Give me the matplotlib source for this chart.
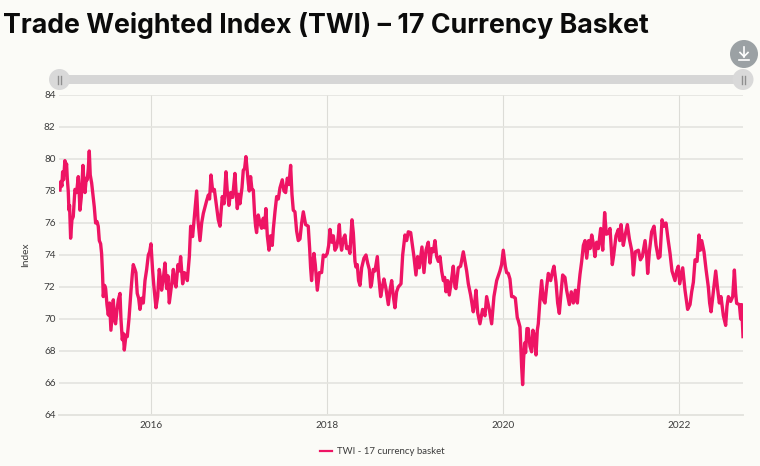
import matplotlib
matplotlib.use("Agg")
import matplotlib.pyplot as plt
from matplotlib.lines import Line2D
from matplotlib.patches import Circle, Rectangle

plt.rcParams["font.family"] = "Lato"

# values, as decimal year / index level
years = [
    2014.966, 2014.977, 2014.988, 2014.996, 2015.007, 2015.022, 2015.034, 2015.041, 2015.049, 2015.060,
    2015.068, 2015.075, 2015.087, 2015.102, 2015.117, 2015.136, 2015.155, 2015.174, 2015.185, 2015.193,
    2015.208, 2015.227, 2015.238, 2015.250, 2015.265, 2015.276, 2015.288, 2015.299, 2015.310, 2015.326,
    2015.344, 2015.356, 2015.363, 2015.371, 2015.386, 2015.401, 2015.413, 2015.428, 2015.439, 2015.450,
    2015.458, 2015.473, 2015.485, 2015.500, 2015.515, 2015.530, 2015.545, 2015.560, 2015.572, 2015.587,
    2015.598, 2015.613, 2015.629, 2015.648, 2015.659, 2015.674, 2015.685, 2015.697, 2015.716, 2015.731,
    2015.750, 2015.772, 2015.788, 2015.799, 2015.818, 2015.829, 2015.844, 2015.860, 2015.875, 2015.894,
    2015.913, 2015.932, 2015.951, 2015.970, 2015.985,
    2016.000, 2016.019, 2016.034, 2016.057, 2016.076, 2016.094, 2016.110, 2016.121, 2016.140, 2016.159,
    2016.178, 2016.193, 2016.208, 2016.231, 2016.254, 2016.269, 2016.284, 2016.307, 2016.322, 2016.337,
    2016.360, 2016.379, 2016.398, 2016.413, 2016.436, 2016.451, 2016.462, 2016.473, 2016.492, 2016.504,
    2016.519, 2016.534, 2016.557, 2016.576, 2016.595, 2016.614, 2016.633, 2016.652, 2016.666, 2016.682,
    2016.701, 2016.720, 2016.746, 2016.765, 2016.784, 2016.799, 2016.810, 2016.830, 2016.852, 2016.867,
    2016.886, 2016.905, 2016.928, 2016.954, 2016.966, 2016.981, 2016.996,
    2017.011, 2017.034, 2017.049, 2017.064, 2017.079, 2017.094, 2017.106, 2017.117, 2017.132, 2017.147,
    2017.163, 2017.178, 2017.189, 2017.200, 2017.219, 2017.238, 2017.257, 2017.276, 2017.291, 2017.306,
    2017.322, 2017.341, 2017.359, 2017.378, 2017.390, 2017.409, 2017.428, 2017.447, 2017.466, 2017.492,
    2017.511, 2017.530, 2017.549, 2017.568, 2017.587, 2017.602, 2017.617, 2017.636, 2017.655, 2017.674,
    2017.693, 2017.712, 2017.731, 2017.757, 2017.787, 2017.803, 2017.814, 2017.825, 2017.841, 2017.852,
    2017.867, 2017.890, 2017.913, 2017.939, 2017.958, 2017.981,
    2018.003, 2018.019, 2018.034, 2018.053, 2018.072, 2018.091, 2018.110, 2018.125, 2018.140, 2018.151,
    2018.166, 2018.185, 2018.204, 2018.223, 2018.242, 2018.261, 2018.272, 2018.284, 2018.299, 2018.318,
    2018.329, 2018.344, 2018.359, 2018.375, 2018.394, 2018.420, 2018.443, 2018.462, 2018.481, 2018.496,
    2018.507, 2018.526, 2018.545, 2018.572, 2018.587, 2018.610, 2018.629, 2018.647, 2018.670, 2018.697,
    2018.716, 2018.735, 2018.754, 2018.772, 2018.791, 2018.810, 2018.841, 2018.860, 2018.886, 2018.905,
    2018.924, 2018.951, 2018.966, 2018.988,
    2019.011, 2019.030, 2019.049, 2019.079, 2019.102, 2019.125, 2019.151, 2019.170, 2019.189, 2019.208,
    2019.227, 2019.246, 2019.265, 2019.284, 2019.303, 2019.322, 2019.337, 2019.352, 2019.371, 2019.390,
    2019.416, 2019.435, 2019.454, 2019.465, 2019.492, 2019.518, 2019.549, 2019.568, 2019.587, 2019.606,
    2019.632, 2019.662, 2019.678, 2019.693, 2019.712, 2019.738, 2019.768, 2019.795, 2019.814, 2019.844,
    2019.871, 2019.897, 2019.928, 2019.965, 2019.984,
    2020.003, 2020.026, 2020.041, 2020.060, 2020.079, 2020.098, 2020.117, 2020.140, 2020.162, 2020.174,
    2020.193, 2020.204, 2020.212, 2020.223, 2020.234, 2020.246, 2020.257, 2020.272, 2020.287, 2020.306,
    2020.325, 2020.340, 2020.356, 2020.375, 2020.390, 2020.401, 2020.420, 2020.439, 2020.458, 2020.477,
    2020.496, 2020.515, 2020.541, 2020.564, 2020.579, 2020.602, 2020.621, 2020.640, 2020.659, 2020.678,
    2020.704, 2020.723, 2020.754, 2020.776, 2020.799, 2020.822, 2020.845, 2020.860, 2020.875, 2020.894,
    2020.913, 2020.932, 2020.951, 2020.973, 2020.989,
    2021.008, 2021.027, 2021.045, 2021.064, 2021.083, 2021.110, 2021.133, 2021.155, 2021.174, 2021.197,
    2021.216, 2021.231, 2021.242, 2021.258, 2021.284, 2021.311, 2021.326, 2021.341, 2021.367, 2021.390,
    2021.413, 2021.436, 2021.462, 2021.473, 2021.481, 2021.504, 2021.538, 2021.561, 2021.583, 2021.614,
    2021.633, 2021.644, 2021.663, 2021.689, 2021.716, 2021.739, 2021.765, 2021.784, 2021.807, 2021.830,
    2021.852, 2021.875, 2021.898, 2021.920, 2021.954, 2021.973, 2021.992,
    2022.008, 2022.042, 2022.068, 2022.098, 2022.125, 2022.144, 2022.163, 2022.182, 2022.205, 2022.227,
    2022.242, 2022.258, 2022.284, 2022.307, 2022.333, 2022.348, 2022.364, 2022.390, 2022.417, 2022.436,
    2022.458, 2022.477, 2022.504, 2022.530, 2022.545, 2022.561, 2022.587, 2022.610, 2022.629, 2022.644,
    2022.655, 2022.686, 2022.701, 2022.712, 2022.727,
]
twi = [
    78.06, 78.6, 78.3, 79.2, 78.7, 79.9, 79.4, 79.7, 78.8, 78.0,
    76.8, 77.1, 75.05, 76.2, 76.4, 78.1, 77.9, 78.9, 77.8, 76.8,
    77.6, 79.6, 78.6, 77.9, 78.8, 78.7, 79.4, 80.5, 79.0, 78.5,
    77.6, 77.0, 76.5, 76.0, 76.1, 75.8, 74.9, 74.7, 74.1, 72.8,
    71.4, 72.1, 71.9, 70.9, 70.25, 71.0, 69.3, 70.4, 71.2, 69.9,
    69.7, 70.5, 71.2, 71.6, 70.0, 68.7, 69.1, 68.06, 69.0, 68.9,
    70.0, 71.7, 72.8, 73.4, 73.1, 72.9, 71.6, 71.3, 70.6, 71.3,
    71.0, 72.4, 73.1, 74.0, 74.2,
    74.7, 73.0, 72.0, 70.7, 71.4, 73.1, 72.5, 71.8, 72.5, 73.5,
    71.9, 72.7, 71.0, 72.0, 73.1, 72.3, 72.0, 73.4, 73.0, 73.9,
    72.2, 72.9, 72.8, 72.4, 73.9, 75.8, 75.4, 75.15, 76.3, 77.0,
    78.0, 76.2, 74.9, 76.0, 76.6, 77.0, 77.4, 77.75, 77.5, 79.0,
    78.0, 78.1, 77.0, 76.2, 75.8, 76.9, 77.65, 77.2, 79.2, 78.0,
    77.1, 77.9, 77.6, 79.1, 78.0, 76.9, 77.8,
    77.2, 78.2, 79.3, 79.4, 80.15, 79.2, 78.5, 78.0, 78.9, 78.1,
    78.05, 76.5, 75.8, 75.4, 76.5, 76.0, 75.67, 76.3, 75.7, 76.9,
    75.2, 74.3, 75.2, 74.6, 75.6, 76.7, 77.65, 77.5, 78.2, 78.7,
    78.0, 77.9, 78.8, 78.4, 79.6, 77.8, 76.8, 76.7, 75.5, 74.9,
    75.0, 76.0, 76.7, 75.9, 75.8, 74.4, 73.2, 72.4, 73.6, 74.1,
    73.4, 71.8, 72.9, 72.9, 74.0, 73.9,
    74.1, 74.6, 75.6, 74.8, 75.2, 74.3, 74.5, 75.0, 75.9, 74.9,
    74.3, 75.0, 75.25, 74.4, 74.5, 74.1, 75.2, 76.2, 75.4, 73.6,
    73.25, 73.4, 72.4, 72.1, 73.2, 73.8, 74.0, 73.5, 73.1, 72.0,
    72.2, 73.1, 73.0, 73.9, 72.7, 71.4, 72.0, 72.5, 71.9, 70.9,
    71.8, 72.4, 71.4, 70.7, 71.7, 72.0, 72.2, 74.0, 75.25, 74.9,
    75.45, 75.4, 74.8, 73.9,
    72.75, 73.9, 73.2, 74.5, 72.9, 74.3, 74.8, 73.5, 74.4, 74.2,
    74.9, 73.9, 73.6, 73.9, 73.0, 72.4, 72.6, 71.7, 72.4, 71.5,
    72.5, 73.3, 72.0, 71.9, 73.2, 73.3, 74.2, 73.6, 73.0, 72.2,
    71.5, 70.45, 71.0, 71.8, 70.4, 69.7, 70.6, 70.2, 71.4, 70.6,
    69.7, 71.4, 72.4, 73.0, 73.4,
    74.3, 73.3, 72.9, 72.85, 72.5, 71.4, 71.4, 71.3, 70.1, 69.9,
    69.5, 68.0, 67.0, 65.9, 67.5, 68.5, 67.9, 69.4, 69.4, 68.3,
    67.95, 69.3, 69.0, 67.75, 69.3, 69.7, 71.2, 72.4, 71.2, 71.0,
    72.0, 72.85, 72.4, 73.0, 73.3, 72.3, 71.0, 70.35, 71.6, 72.75,
    72.6, 71.8, 70.9, 71.7, 71.0, 71.8, 71.0, 72.0, 72.8, 73.6,
    74.6, 74.9, 73.8, 74.9, 74.4,
    75.25, 74.7, 73.9, 74.8, 74.4, 75.66, 74.3, 76.65, 75.3, 75.35,
    75.66, 74.4, 73.4, 74.0, 75.2, 75.6, 74.9, 75.9, 74.6, 75.3,
    75.9, 75.0, 74.3, 73.6, 72.75, 74.2, 74.3, 73.7, 73.9, 74.9,
    73.9, 72.85, 74.2, 75.45, 75.8, 74.6, 73.8, 73.9, 76.2, 75.8,
    76.0, 75.0, 74.1, 73.0, 72.4, 73.0, 73.3,
    72.2, 73.2, 71.8, 70.6, 70.9, 71.7, 72.3, 73.7, 73.6, 75.25,
    74.3, 74.9, 74.2, 73.1, 72.0, 71.0, 70.45, 71.7, 73.0, 72.0,
    71.0, 71.4, 70.2, 69.6, 70.8, 71.4, 71.1, 71.4, 73.06, 71.6,
    70.98, 70.9, 70.0, 70.9, 68.9,
]
x_ticks = [2016, 2018, 2020, 2022]
y_ticks = list(range(64, 86, 2))

bg = "#fbfbf7"
pink = "#ee1464"
grid = "#e4e4df"

fig = plt.figure(figsize=(7.6, 4.66), dpi=100, facecolor=bg)
ax = fig.add_axes([59 / 760, 1 - 415 / 466, 684 / 760, 320 / 466], facecolor=bg)

ax.plot(years, twi, color=pink, lw=2.4, solid_joinstyle="round", zorder=3)

ax.set_xlim(2014.955, 2022.727)
ax.set_ylim(64, 84)
ax.set_xticks(x_ticks)
ax.set_yticks(y_ticks)
ax.grid(True, axis="y", color=grid, lw=1.2)
ax.grid(True, axis="x", color="#dcdcd7", lw=0.8)
ax.set_axisbelow(True)
for name, spine in ax.spines.items():
    spine.set_visible(name == "bottom")
ax.spines["bottom"].set_color(grid)
ax.spines["bottom"].set_linewidth(1.4)
ax.tick_params(length=0, pad=2.5, labelsize=7.2, labelcolor="#3c3c3c")
ax.tick_params(axis="x", pad=4)
ax.set_ylabel("Index", fontsize=7.3, color="#3c3c3c")
ax.yaxis.set_label_coords(-29 / 684, 0.5)

key = Line2D([], [], color=pink, lw=1.6, label="TWI - 17 currency basket")
fig.legend(handles=[key], loc="center", bbox_to_anchor=(382 / 760, 1 - 452 / 466), frameon=False,
           fontsize=6.9, labelcolor="#3c3c3c", handlelength=1.25, handletextpad=0.52)

# title, slider and download button sit on a pixel overlay
top = fig.add_axes([0, 0, 1, 1], facecolor="none")
top.set_xlim(0, 760)
top.set_ylim(466, 0)
top.axis("off")
top.text(3, 33, "Trade Weighted Index (TWI) – 17 Currency Basket", fontsize=19.25, fontweight="bold",
         family="Inter", color="#0b0b0b", va="baseline", ha="left")
top.add_patch(Rectangle((59, 75), 684, 9, color="#d6d6d6", lw=0))
for cx in [59.5, 743]:
    top.add_patch(Circle((cx, 79.5), 10.5, color="#d9d9d9", lw=0))
    top.plot([cx - 1.5, cx - 1.5], [75.5, 83.5], color="#8f8f8f", lw=1)
    top.plot([cx + 1.5, cx + 1.5], [75.5, 83.5], color="#8f8f8f", lw=1)
top.add_patch(Circle((744, 54), 14, color="#9ba1a4", lw=0))
top.plot([739, 749], [60, 60], color="white", lw=1.2)
top.plot([744, 744], [47, 56.5], color="white", lw=1.2)
top.plot([740, 744, 748], [52.5, 56.5, 52.5], color="white", lw=1.2)

fig.savefig("out.png", dpi=100, facecolor=bg)
